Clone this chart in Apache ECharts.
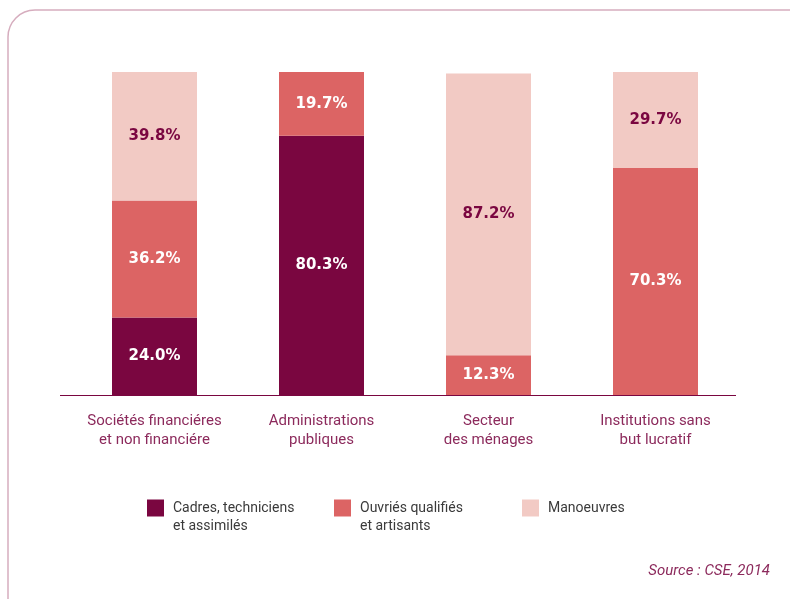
<!DOCTYPE html>
<html>
<head>
<meta charset="utf-8">
<script src="https://cdn.jsdelivr.net/npm/echarts@6/dist/echarts.min.js"></script>
<style>
  html, body { margin: 0; padding: 0; background: #ffffff; }
  #chart { width: 790px; height: 599px; }
</style>
</head>
<body>
<div id="chart"></div>
<script>
// Sectors (x axis categories)
const categories = [
  'Sociétés financiéres\net non financiére',
  'Administrations\npubliques',
  'Secteur\ndes ménages',
  'Institutions sans\nbut lucratif'
];

// Share of each worker group per sector (%)
const cadres = [24.0, 80.3, 0, 0];
const ouvriers = [36.2, 19.7, 12.3, 70.3];
const manoeuvres = [39.8, 0, 87.2, 29.7];

const seriesNames = ['Cadres, techniciens', 'Ouvriés qualifiés', 'Manoeuvres'];
const legendLabels = {
  'Cadres, techniciens': 'Cadres, techniciens\net assimilés',
  'Ouvriés qualifiés': 'Ouvriés qualifiés\net artisants',
  'Manoeuvres': 'Manoeuvres'
};
const sourceText = 'Source : CSE, 2014';

const colDark = '#7a0640';
const colMid = '#dc6464';
const colLight = '#f2cac4';

function segLabel(color) {
  return {
    show: true,
    position: 'inside',
    color: color,
    fontFamily: 'DejaVu Sans',
    fontWeight: 'bold',
    fontSize: 15,
    formatter: p => (p.value > 0 ? p.value.toFixed(1) + '%' : '')
  };
}

const chart = echarts.init(document.getElementById('chart'), null, { renderer: 'canvas' });

function legendFor(name, left, top) {
  return {
    data: [name],
    left: left,
    top: top,
    padding: 0,
    orient: 'horizontal',
    itemWidth: 17,
    itemHeight: 17,
    icon: 'rect',
    selectedMode: false,
    formatter: n => (legendLabels[n].indexOf('\n') >= 0 ? '\n' + legendLabels[n] : legendLabels[n]),
    textStyle: {
      color: '#3a3a3a',
      fontFamily: 'Roboto',
      fontSize: 14,
      lineHeight: 18,
      padding: [0, 0, 0, 4]
    }
  };
}

chart.setOption({
  animation: false,
  backgroundColor: '#ffffff',
  grid: { left: 71, right: 51, top: 72, bottom: 204 },
  xAxis: {
    type: 'category',
    data: categories,
    axisLine: { show: false },
    axisTick: { show: false },
    axisLabel: {
      interval: 0,
      color: '#8c2a5c',
      fontFamily: 'Roboto',
      fontSize: 15,
      lineHeight: 19,
      margin: 17
    }
  },
  yAxis: {
    type: 'value',
    min: 0,
    max: 100,
    show: false,
    splitLine: { show: false }
  },
  legend: [
    legendFor(seriesNames[0], 147, 481),
    legendFor(seriesNames[1], 334, 481),
    legendFor(seriesNames[2], 522, 499)
  ],
  series: [
    {
      name: seriesNames[0], type: 'bar', stack: 'total', barWidth: 85,
      data: cadres, itemStyle: { color: colDark }, label: segLabel('#ffffff')
    },
    {
      name: seriesNames[1], type: 'bar', stack: 'total', barWidth: 85,
      data: ouvriers, itemStyle: { color: colMid }, label: segLabel('#ffffff')
    },
    {
      name: seriesNames[2], type: 'bar', stack: 'total', barWidth: 85,
      data: manoeuvres, itemStyle: { color: colLight }, label: segLabel(colDark)
    }
  ],
  graphic: [
    {
      // rounded frame around the figure
      type: 'rect',
      silent: true,
      shape: { x: 8, y: 10, width: 820, height: 640, r: 27 },
      style: { fill: 'none', stroke: '#d6adbe', lineWidth: 1.5 }
    },
    {
      // baseline under the bars
      type: 'line',
      silent: true,
      shape: { x1: 60, y1: 395.5, x2: 736, y2: 395.5 },
      style: { stroke: colDark, lineWidth: 1.2 }
    },
    {
      type: 'text',
      right: 20,
      top: 564,
      style: {
        text: sourceText,
        fill: '#8c2a5c',
        font: 'italic 15px Roboto'
      }
    }
  ]
});
</script>
</body>
</html>
